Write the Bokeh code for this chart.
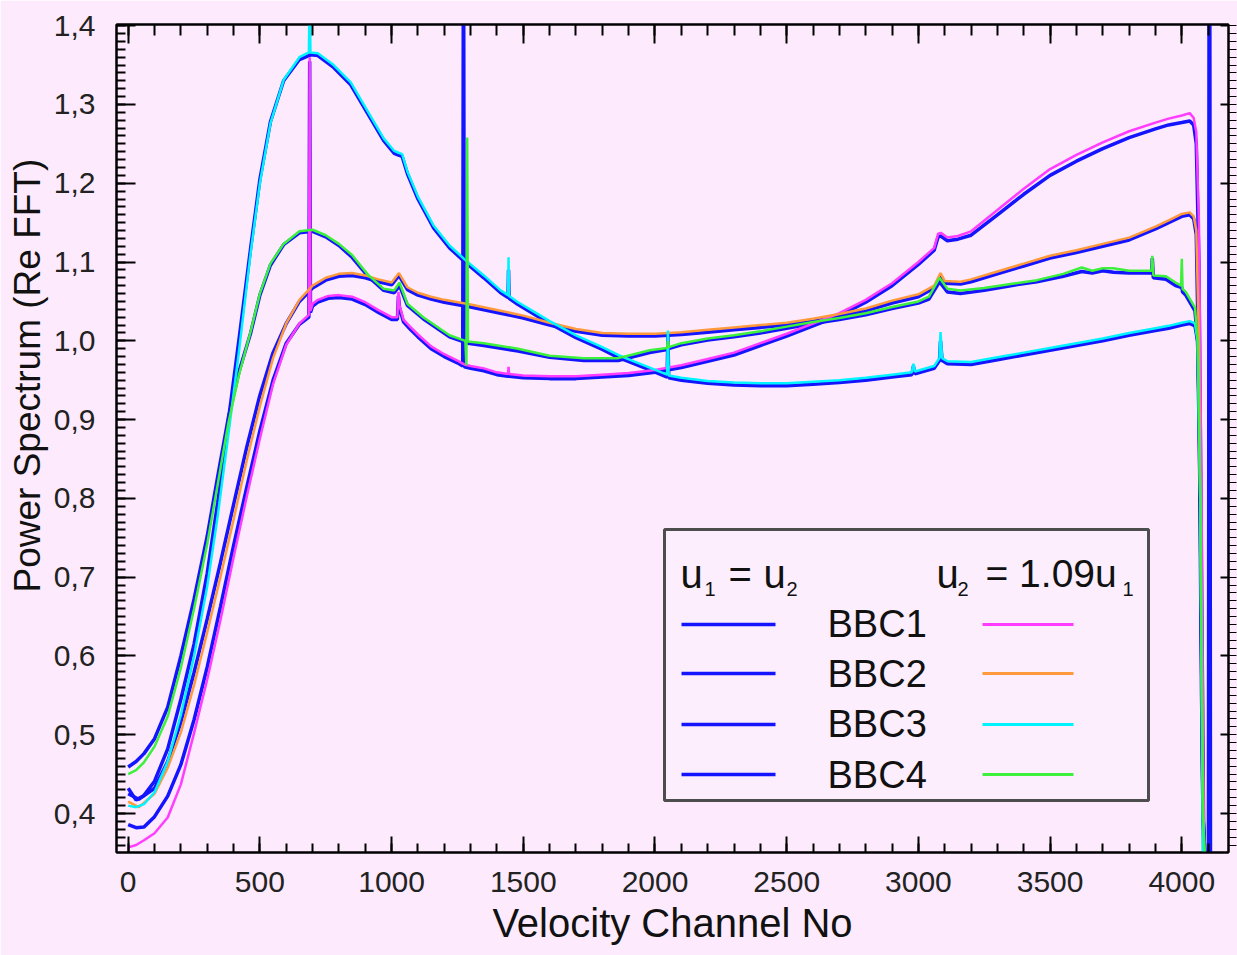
import numpy as np
from bokeh.plotting import figure
from bokeh.models import (Range1d, LinearAxis, FixedTicker, CustomLabelingPolicy,
                          CustomJSTickFormatter, Title, BoxAnnotation, Label)
from bokeh.embed import file_html
from bokeh.resources import INLINE

# ---------------- data ----------------
bbc1_x = [0, 30, 60, 100, 150, 200, 250, 300, 350, 400,
          450, 500, 550, 600, 650, 686, 689, 692, 700, 720,
          760, 800, 850, 900, 950, 1000, 1022, 1026, 1030, 1045,
          1070, 1100, 1150, 1200, 1250, 1270, 1273, 1276, 1300, 1350,
          1400, 1442, 1444, 1446, 1500, 1600, 1700, 1800, 1900, 2000,
          2100, 2200, 2300, 2400, 2500, 2600, 2700, 2800, 2900, 3000,
          3060, 3075, 3085, 3110, 3150, 3200, 3300, 3400, 3500, 3600,
          3700, 3800, 3900, 3950, 4000, 4030, 4045, 4055, 4065, 4075,
          4085, 4095, 4101, 4104, 4107]
bbc1_equal = [0.386, 0.382, 0.383, 0.396, 0.422, 0.462, 0.519, 0.586, 0.662, 0.740,
              0.814, 0.886, 0.950, 0.997, 1.021, 1.030, 1.355, 1.036, 1.044, 1.049,
              1.054, 1.055, 1.053, 1.046, 1.036, 1.027, 1.027, 1.057, 1.042, 1.024,
              1.015, 1.005, 0.990, 0.980, 0.972, 0.968, 1.600, 0.967, 0.965, 0.962,
              0.957, 0.955, 0.955, 0.955, 0.953, 0.952, 0.952, 0.954, 0.956, 0.960,
              0.966, 0.974, 0.982, 0.994, 1.006, 1.019, 1.032, 1.049, 1.070, 1.097,
              1.115, 1.132, 1.133, 1.127, 1.129, 1.134, 1.160, 1.186, 1.210, 1.228,
              1.244, 1.258, 1.269, 1.274, 1.277, 1.279, 1.274, 1.250, 1.100, 0.700,
              0.300, 0.300, 0.300, 1.600, 0.300]
bbc1_109 = [0.357, 0.360, 0.366, 0.375, 0.395, 0.437, 0.502, 0.570, 0.645, 0.725,
            0.802, 0.876, 0.945, 0.995, 1.022, 1.033, 1.360, 1.038, 1.047, 1.052,
            1.057, 1.058, 1.056, 1.049, 1.039, 1.030, 1.030, 1.062, 1.045, 1.027,
            1.018, 1.008, 0.993, 0.983, 0.975, 0.971, 0.971, 0.970, 0.968, 0.965,
            0.960, 0.958, 0.967, 0.958, 0.956, 0.955, 0.955, 0.957, 0.959, 0.963,
            0.969, 0.977, 0.985, 0.997, 1.009, 1.022, 1.035, 1.052, 1.073, 1.100,
            1.118, 1.136, 1.137, 1.131, 1.133, 1.139, 1.166, 1.193, 1.218, 1.236,
            1.252, 1.266, 1.277, 1.282, 1.286, 1.289, 1.283, 1.265, 1.150, 0.800,
            0.300, 0.300, 0.300, 0.300, 0.300]

bbc2_x = [0, 40, 100, 150, 200, 250, 300, 350, 400, 450,
          500, 550, 600, 650, 700, 750, 800, 850, 900, 950,
          1000, 1028, 1060, 1100, 1150, 1200, 1300, 1400, 1500, 1600,
          1700, 1800, 1900, 2000, 2100, 2200, 2300, 2400, 2500, 2600,
          2700, 2800, 2900, 3000, 3060, 3084, 3100, 3160, 3200, 3300,
          3400, 3500, 3600, 3700, 3800, 3900, 3950, 4000, 4030, 4045,
          4055, 4065, 4075, 4085, 4095, 4103, 4106, 4109]
bbc2_equal = [0.425, 0.418, 0.432, 0.466, 0.516, 0.579, 0.647, 0.718, 0.792, 0.865,
              0.931, 0.985, 1.022, 1.050, 1.067, 1.077, 1.082, 1.083, 1.080, 1.075,
              1.071, 1.083, 1.065, 1.058, 1.053, 1.049, 1.043, 1.036, 1.029, 1.020,
              1.012, 1.007, 1.006, 1.006, 1.008, 1.011, 1.014, 1.017, 1.020, 1.025,
              1.031, 1.038, 1.048, 1.056, 1.067, 1.082, 1.073, 1.072, 1.075, 1.085,
              1.095, 1.105, 1.112, 1.120, 1.128, 1.142, 1.150, 1.158, 1.160, 1.155,
              1.135, 0.950, 0.550, 0.300, 0.300, 0.300, 1.600, 0.300]
bbc2_109 = [0.415, 0.408, 0.425, 0.458, 0.503, 0.563, 0.630, 0.700, 0.773, 0.848,
            0.917, 0.978, 1.022, 1.052, 1.070, 1.080, 1.085, 1.086, 1.083, 1.078,
            1.074, 1.086, 1.068, 1.061, 1.056, 1.052, 1.046, 1.039, 1.032, 1.023,
            1.015, 1.010, 1.009, 1.009, 1.011, 1.014, 1.017, 1.020, 1.023, 1.028,
            1.034, 1.041, 1.051, 1.059, 1.070, 1.086, 1.076, 1.075, 1.078, 1.088,
            1.098, 1.108, 1.115, 1.123, 1.131, 1.145, 1.153, 1.161, 1.163, 1.158,
            1.140, 1.000, 0.600, 0.300, 0.300, 0.300, 0.300, 0.300]

bbc3_x = [0, 30, 60, 100, 150, 200, 250, 300, 340, 380,
          420, 465, 500, 540, 590, 650, 686, 689, 692, 720,
          780, 845, 910, 970, 1010, 1024, 1040, 1060, 1100, 1160,
          1220, 1275, 1350, 1414, 1442, 1444, 1446, 1480, 1540, 1600,
          1700, 1800, 1860, 1920, 1980, 2046, 2049, 2052, 2100, 2200,
          2300, 2400, 2500, 2600, 2700, 2800, 2900, 2975, 2981, 2987,
          3060, 3080, 3084, 3090, 3110, 3200, 3300, 3400, 3500, 3600,
          3700, 3800, 3900, 3950, 4000, 4030, 4050, 4060, 4070, 4080,
          4095]
bbc3_equal = [0.432, 0.417, 0.423, 0.441, 0.482, 0.545, 0.615, 0.705, 0.795, 0.898,
              1.000, 1.118, 1.205, 1.278, 1.330, 1.357, 1.362, 1.362, 1.363, 1.362,
              1.347, 1.325, 1.288, 1.254, 1.238, 1.236, 1.234, 1.212, 1.180, 1.143,
              1.118, 1.101, 1.080, 1.061, 1.055, 1.090, 1.054, 1.046, 1.034, 1.022,
              1.004, 0.989, 0.979, 0.971, 0.963, 0.954, 1.005, 0.953, 0.950, 0.946,
              0.944, 0.943, 0.943, 0.945, 0.947, 0.950, 0.954, 0.957, 0.968, 0.958,
              0.965, 0.975, 1.000, 0.975, 0.971, 0.970, 0.976, 0.982, 0.988, 0.994,
              1.000, 1.007, 1.013, 1.016, 1.020, 1.022, 1.019, 1.000, 0.850, 0.400,
              0.300]
bbc3_109 = [0.410, 0.408, 0.412, 0.427, 0.466, 0.525, 0.600, 0.688, 0.778, 0.880,
            0.985, 1.112, 1.200, 1.276, 1.331, 1.360, 1.366, 1.450, 1.366, 1.365,
            1.350, 1.328, 1.291, 1.257, 1.241, 1.239, 1.237, 1.215, 1.183, 1.146,
            1.121, 1.104, 1.083, 1.064, 1.058, 1.106, 1.057, 1.049, 1.037, 1.025,
            1.007, 0.992, 0.982, 0.974, 0.966, 0.957, 1.013, 0.956, 0.953, 0.949,
            0.947, 0.946, 0.946, 0.948, 0.950, 0.953, 0.957, 0.960, 0.971, 0.961,
            0.968, 0.978, 1.011, 0.978, 0.974, 0.973, 0.979, 0.985, 0.991, 0.997,
            1.003, 1.010, 1.016, 1.019, 1.023, 1.025, 1.022, 1.000, 0.800, 0.350,
            0.300]

bbc4_x = [0, 30, 60, 100, 150, 200, 250, 300, 340, 380,
          420, 465, 500, 540, 590, 650, 700, 750, 800, 850,
          910, 970, 1010, 1030, 1060, 1120, 1220, 1280, 1284, 1287,
          1290, 1350, 1480, 1600, 1730, 1860, 1920, 1980, 2046, 2049,
          2052, 2100, 2200, 2300, 2400, 2500, 2600, 2700, 2800, 2900,
          3000, 3040, 3080, 3110, 3160, 3250, 3350, 3450, 3550, 3620,
          3660, 3700, 3740, 3800, 3860, 3885, 3888, 3892, 3940, 3976,
          3997, 4000, 4003, 4015, 4050, 4060, 4070, 4080, 4095]
bbc4_equal = [0.459, 0.466, 0.476, 0.495, 0.535, 0.600, 0.672, 0.752, 0.828, 0.902,
              0.960, 1.010, 1.058, 1.096, 1.122, 1.137, 1.139, 1.132, 1.121, 1.106,
              1.082, 1.064, 1.061, 1.070, 1.045, 1.028, 1.005, 0.998, 0.998, 0.998,
              0.997, 0.994, 0.987, 0.979, 0.975, 0.975, 0.980, 0.985, 0.989, 0.989,
              0.990, 0.995, 1.001, 1.005, 1.010, 1.016, 1.022, 1.027, 1.033, 1.041,
              1.048, 1.053, 1.075, 1.062, 1.060, 1.064, 1.070, 1.075, 1.082, 1.088,
              1.086, 1.089, 1.087, 1.086, 1.086, 1.086, 1.105, 1.080, 1.078, 1.070,
              1.068, 1.068, 1.062, 1.058, 1.038, 1.000, 0.800, 0.400, 0.300]
bbc4_109 = [0.450, 0.455, 0.465, 0.485, 0.523, 0.585, 0.660, 0.742, 0.818, 0.895,
            0.956, 1.012, 1.060, 1.098, 1.123, 1.139, 1.141, 1.134, 1.123, 1.109,
            1.084, 1.066, 1.064, 1.074, 1.047, 1.030, 1.007, 1.000, 0.969, 1.258,
            0.999, 0.997, 0.990, 0.981, 0.978, 0.978, 0.983, 0.988, 0.991, 1.000,
            0.992, 0.997, 1.003, 1.007, 1.012, 1.018, 1.024, 1.029, 1.035, 1.043,
            1.050, 1.056, 1.080, 1.066, 1.064, 1.067, 1.072, 1.077, 1.085, 1.093,
            1.089, 1.092, 1.092, 1.089, 1.089, 1.089, 1.108, 1.083, 1.082, 1.074,
            1.070, 1.104, 1.066, 1.062, 1.042, 1.000, 0.800, 0.400, 0.300]

series_names = ["BBC1", "BBC2", "BBC3", "BBC4"]
x_ticks_major = [0, 500, 1000, 1500, 2000, 2500, 3000, 3500, 4000]
y_ticks_major = [0.4, 0.5, 0.6, 0.7, 0.8, 0.9, 1.0, 1.1, 1.2, 1.3, 1.4]

# ---------------- styling / layout constants ----------------
BG = "#fdebfd"
FONT = "Liberation Sans"
BLUE = "#1414ff"
COLORS_109 = ["#ff3cff", "#ff9a3c", "#00f4ff", "#3cf03c"]

X_MIN, X_MAX = -44.4, 4177.3
Y_MIN, Y_MAX = 0.3505, 1.4015
FRAME_W, FRAME_H = 1112, 828
FRAME_LEFT_PX, FRAME_TOP_PX = 116, 24   # frame position in the picture


def dx(px):
    return X_MIN + (px - FRAME_LEFT_PX) * (X_MAX - X_MIN) / FRAME_W


def dy(py):
    return Y_MAX - (py - FRAME_TOP_PX) * (Y_MAX - Y_MIN) / FRAME_H


p = figure(frame_width=FRAME_W, frame_height=FRAME_H,
           x_range=Range1d(X_MIN, X_MAX), y_range=Range1d(Y_MIN, Y_MAX),
           output_backend="svg", toolbar_location=None,
           min_border_left=116, min_border_top=24, min_border_right=9, min_border_bottom=103,
           background_fill_color=BG, border_fill_color=BG,
           outline_line_color="black", outline_line_width=2)
p.grid.visible = False

x_minor = list(range(0, 4200, 100))
y_minor = [round(v, 2) for v in np.arange(0.36, 1.401, 0.01)]

ax = p.xaxis[0]
ax.ticker = FixedTicker(ticks=x_ticks_major, minor_ticks=x_minor)
ax.major_tick_in, ax.major_tick_out = 16, 0
ax.minor_tick_in, ax.minor_tick_out = 9, 0
ax.axis_line_width = 2
ax.major_tick_line_width = 2
ax.minor_tick_line_width = 2
ax.major_label_text_font = FONT
ax.major_label_text_font_size = "30px"
ax.major_label_text_color = "#222222"
ax.major_label_standoff = 19
ax.axis_label = "Velocity Channel No"
ax.axis_label_text_font = FONT
ax.axis_label_text_font_size = "40px"
ax.axis_label_text_font_style = "normal"
ax.axis_label_text_color = "#111111"
ax.axis_label_standoff = 6

ay = p.yaxis[0]
ay.ticker = FixedTicker(ticks=y_ticks_major, minor_ticks=y_minor)
ay.formatter = CustomJSTickFormatter(code="return tick.toFixed(1).replace('.', ',');")
ay.major_tick_in, ay.major_tick_out = 19, 0
ay.minor_tick_in, ay.minor_tick_out = 9, 0
ay.axis_line_width = 2
ay.major_tick_line_width = 2
ay.minor_tick_line_width = 2
ay.major_label_text_font = FONT
ay.major_label_text_font_size = "30px"
ay.major_label_text_color = "#222222"
ay.major_label_standoff = 21

# y title: starts (bottom end) 260 px above the frame bottom, like the original
p.add_layout(Title(text="Power Spectrum (Re FFT)", align="left", offset=260, standoff=6,
                   text_font=FONT, text_font_size="37px", text_font_style="normal",
                   text_color="#111111"), "left")

top_axis = LinearAxis(ticker=FixedTicker(ticks=x_ticks_major, minor_ticks=x_minor),
                      major_tick_in=19, major_tick_out=0, minor_tick_in=11, minor_tick_out=0,
                      axis_line_width=2, major_tick_line_width=2, minor_tick_line_width=2,
                      major_label_policy=CustomLabelingPolicy(
                          code="for (const i of indices) indices.unset(i)"),
                      major_label_text_font_size="1px", major_label_standoff=0)
p.add_layout(top_axis, "above")
right_axis = LinearAxis(ticker=FixedTicker(ticks=y_ticks_major, minor_ticks=y_minor),
                        major_tick_in=8, major_tick_out=0, minor_tick_in=0, minor_tick_out=8,
                        axis_line_width=2, major_tick_line_width=2, minor_tick_line_width=1,
                        major_label_policy=CustomLabelingPolicy(
                            code="for (const i of indices) indices.unset(i)"),
                        major_label_text_font_size="1px", major_label_standoff=0)
p.add_layout(right_axis, "right")

xs = [bbc1_x, bbc2_x, bbc3_x, bbc4_x]
ys_equal = [bbc1_equal, bbc2_equal, bbc3_equal, bbc4_equal]
ys_109 = [bbc1_109, bbc2_109, bbc3_109, bbc4_109]

for x, y in zip(xs, ys_equal):
    p.line(x, y, line_color=BLUE, line_width=3.5)
for x, y, c in zip(xs, ys_109, COLORS_109):
    p.line(x, y, line_color=c, line_width=2.5)

# ---------------- legend (built by hand, like the original) ----------------
p.add_layout(BoxAnnotation(left=dx(664), right=dx(1148), top=dy(529), bottom=dy(800),
                           fill_color="#fdeefd", fill_alpha=1.0,
                           line_color="#4d4d4d", line_alpha=1.0, line_width=3))

row_py = [624, 673, 724, 774]
text_py = [623, 673, 723, 774]
p.segment(x0=[dx(681)] * 4, x1=[dx(775)] * 4, y0=[dy(v) for v in row_py],
          y1=[dy(v) for v in row_py], line_color=BLUE, line_width=3.5, level="overlay")
p.segment(x0=[dx(982)] * 4, x1=[dx(1073)] * 4, y0=[dy(v) for v in row_py],
          y1=[dy(v) for v in row_py], line_color=COLORS_109, line_width=3, level="overlay")

for name, ty in zip(series_names, text_py):
    p.add_layout(Label(x=dx(827), y=dy(ty), text=name, text_font=FONT,
                       text_font_size="38px", text_baseline="middle",
                       text_color="#111111", level="overlay"))


def legend_text(px, py, txt, size):
    p.add_layout(Label(x=dx(px), y=dy(py), text=txt, text_font=FONT,
                       text_font_size=size, text_baseline="alphabetic",
                       text_color="#111111", level="overlay"))


legend_text(680, 573, "u", "40px")
legend_text(704, 588, "1", "20px")
legend_text(728, 573, "=", "40px")
legend_text(763, 573, "u", "40px")
legend_text(786, 588, "2", "20px")
legend_text(936, 573, "u", "40px")
legend_text(957, 588, "2", "20px")
legend_text(985, 573, "= 1.09u", "39px")
legend_text(1122, 588, "1", "20px")

open("out.html", "w").write(file_html(p, INLINE))
